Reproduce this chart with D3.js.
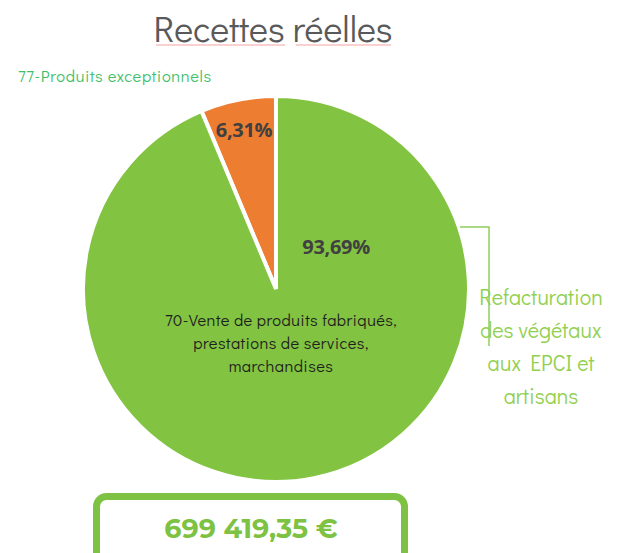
<!DOCTYPE html>
<html>
<head>
<meta charset="utf-8">
<script src="https://cdn.jsdelivr.net/npm/d3@7"></script>
<style>
  body { margin: 0; background: #fff; }
  svg { display: block; }
</style>
</head>
<body>
<svg id="main"></svg>
<script>
// chart data
const title = "Recettes réelles";
const categories = ["77-Produits exceptionnels", "70-Vente de produits fabriqués, prestations de services, marchandises"];
const shares = [6.31, 93.69];
const shareLabels = ["6,31%", "93,69%"];
const totalLabel = "699 419,35 €";
const calloutLines = ["Refacturation", "des végétaux", "aux EPCI et", "artisans"];
const innerLines = ["70-Vente de produits fabriqués,", "prestations de services,", "marchandises"];

const width = 624, height = 553;
const cx = 276, cy = 289, radius = 193;
const colors = ["#ed7d31", "#82c341"];
const thinFont = "'Century Gothic', 'Didact Gothic', 'DejaVu Sans', sans-serif";
const boldFont = "'Open Sans', Calibri, 'Noto Sans', sans-serif";

const svg = d3.select("#main")
    .attr("width", width)
    .attr("height", height);

// title
svg.append("text")
    .attr("x", 273)
    .attr("y", 42)
    .attr("text-anchor", "middle")
    .attr("font-family", thinFont)
    .attr("font-size", 36)
    .attr("font-weight", 300)
    .attr("fill", "#595959")
    .text(title);
// spellcheck style underline
svg.append("line").attr("x1", 156).attr("x2", 285).attr("y1", 45).attr("y2", 45)
    .attr("stroke", "#f3a3a3").attr("stroke-width", 1);
svg.append("line").attr("x1", 296).attr("x2", 391).attr("y1", 45).attr("y2", 45)
    .attr("stroke", "#f3a3a3").attr("stroke-width", 1);

// top-left label
svg.append("text")
    .attr("x", 18)
    .attr("y", 82)
    .attr("font-family", thinFont)
    .attr("font-size", 16.5)
    .attr("letter-spacing", 0.6)
    .attr("fill", "#3fbf6a")
    .text(categories[0]);

// pie
const sum = d3.sum(shares);
const start = -2 * Math.PI * shares[0] / sum;
const pie = d3.pie().sort(null).startAngle(start).endAngle(start + 2 * Math.PI);
const arc = d3.arc().innerRadius(0).outerRadius(radius);
const arcs = pie(shares);

const g = svg.append("g").attr("transform", "translate(" + cx + "," + cy + ")");

g.selectAll("path")
    .data(arcs)
    .enter()
    .append("path")
    .attr("d", arc)
    .attr("fill", (d, i) => colors[i])
    .attr("stroke", "#fff")
    .attr("stroke-width", 4)
    .attr("stroke-linejoin", "miter");

// percentage labels
const labelArc = d3.arc().innerRadius(radius * 0.84).outerRadius(radius * 0.84);
g.selectAll("text.pct")
    .data(arcs)
    .enter()
    .append("text")
    .attr("class", "pct")
    .attr("transform", function(d, i) {
        if (i === 0) return "translate(" + labelArc.centroid(d) + ")";
        // green label sits in the upper-right part of the big slice
        let a = 0.96;
        return "translate(" + (Math.sin(a) * radius * 0.38) + "," + (-Math.cos(a) * radius * 0.38) + ")";
    })
    .attr("dy", "0.35em")
    .attr("text-anchor", "middle")
    .attr("font-family", boldFont)
    .attr("font-weight", "bold")
    .attr("font-size", 20)
    .attr("letter-spacing", -0.3)
    .attr("fill", "#404040")
    .text((d, i) => shareLabels[i]);

// inside category label
const inner = svg.append("text")
    .attr("text-anchor", "middle")
    .attr("font-family", thinFont)
    .attr("font-size", 16.5)
    .attr("letter-spacing", 0.4)
    .attr("fill", "#1e1e1e");
innerLines.forEach((t, i) => {
    inner.append("tspan").attr("x", 281).attr("y", 326 + i * 23).text(t);
});

// callout line and text
svg.append("path")
    .attr("d", "M460,227 H489 V346")
    .attr("fill", "none")
    .attr("stroke", "#8fd05c")
    .attr("stroke-width", 1.5);

const callout = svg.append("text")
    .attr("text-anchor", "middle")
    .attr("font-family", thinFont)
    .attr("font-size", 21.5)
    .attr("fill", "#92d050");
calloutLines.forEach((t, i) => {
    callout.append("tspan").attr("x", 541).attr("y", 305 + i * 33).text(t);
});

// total box
svg.append("rect")
    .attr("x", 96.5)
    .attr("y", 496.5)
    .attr("width", 308)
    .attr("height", 80)
    .attr("rx", 10)
    .attr("fill", "#fff")
    .attr("stroke", "#7dc242")
    .attr("stroke-width", 7);

svg.append("text")
    .attr("x", 251)
    .attr("y", 538)
    .attr("text-anchor", "middle")
    .attr("font-family", "Montserrat, 'Open Sans', sans-serif")
    .attr("font-weight", "bold")
    .attr("font-size", 27)
    .attr("fill", "#7dc242")
    .text(totalLabel);
</script>
</body>
</html>
